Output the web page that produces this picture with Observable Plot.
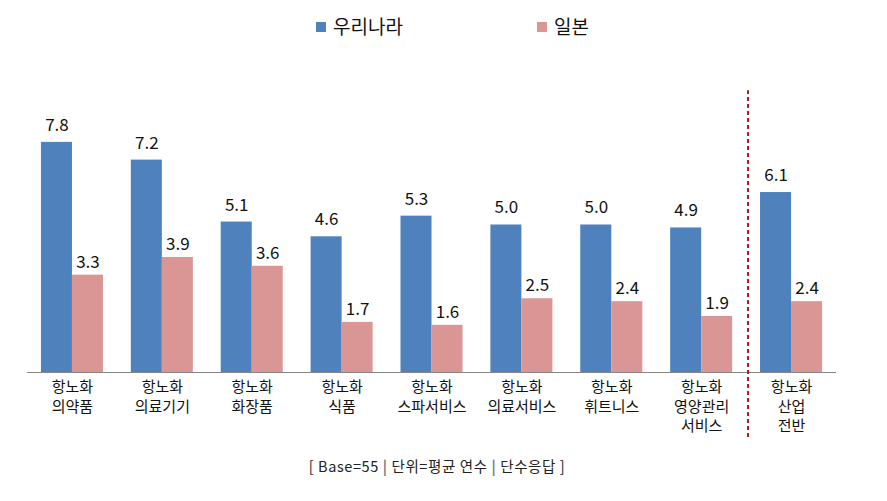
<!DOCTYPE html>
<html><head><meta charset="utf-8">
<script src="https://cdn.jsdelivr.net/npm/d3@7"></script>
<script src="https://cdn.jsdelivr.net/npm/@observablehq/plot@0.6"></script>
<style>
body{margin:0;background:#fff;font-family:"Noto Sans CJK KR","Noto Sans",sans-serif;}
#wrap{position:relative;width:887px;}
#legend{position:relative;height:50px;}
.sw{position:absolute;width:10px;height:10px;}
.lt{position:absolute;font-size:19px;line-height:22px;color:#111;}
#cap{position:relative;height:51px;}
#cap div{position:absolute;left:0;width:874px;text-align:center;top:5px;font-size:14.5px;letter-spacing:0.6px;color:#222;}
#cap b{color:#777;font-weight:bold;}
</style></head>
<body><div id="wrap">
<div id="legend">
<div class="sw" style="left:316px;top:22px;background:#4F81BD"></div><div class="lt" style="left:333px;top:15px">우리나라</div>
<div class="sw" style="left:537px;top:22px;background:#D99694"></div><div class="lt" style="left:554px;top:15px">일본</div>
</div>
<div id="chart"></div>
<div id="cap"><div>[ Base=55 <b>|</b> 단위=평균 연수 <b>|</b> 단수응답 ]</div></div>
</div>
<script>
const categories = ["항노화\n의약품", "항노화\n의료기기", "항노화\n화장품", "항노화\n식품", "항노화\n스파서비스", "항노화\n의료서비스", "항노화\n휘트니스", "항노화\n영양관리\n서비스", "항노화\n산업\n전반"];
const seriesNames = ["우리나라", "일본"];
const korea = [7.8, 7.2, 5.1, 4.6, 5.3, 5.0, 5.0, 4.9, 6.1];
const japan = [3.3, 3.9, 3.6, 1.7, 1.6, 2.5, 2.4, 1.9, 2.4];
const colors = ["#4F81BD", "#D99694"];
const dividerBefore = categories[8];
const dividerSpan = [-2.2, 9.55];

const rows = [];
categories.forEach((c, i) => {
  rows.push({cat: c, s: seriesNames[0], v: korea[i]});
  rows.push({cat: c, s: seriesNames[1], v: japan[i]});
});
const kr = rows.filter(d => d.s === seriesNames[0]);
const jp = rows.filter(d => d.s === seriesNames[1]);
const fmt = d3.format(".1f");
const half = 31;

const chart = Plot.plot({
  width: 887,
  height: 400,
  marginLeft: 27,
  marginRight: 51,
  marginTop: 0,
  marginBottom: 78,
  x: {domain: categories, paddingInner: 0.31, paddingOuter: 0.155, round: false, axis: null},
  y: {domain: [0, 10], range: [322, 27], axis: null},
  style: {fontFamily: '"Noto Sans CJK KR","Noto Sans",sans-serif'},
  marks: [
    Plot.barY(kr, {x: "cat", y: "v", fill: colors[0], insetRight: half}),
    Plot.barY(jp, {x: "cat", y: "v", fill: colors[1], insetLeft: half}),
    Plot.ruleY([0], {stroke: "#868686", strokeWidth: 1}),
    Plot.text(kr, {x: "cat", y: "v", text: d => fmt(d.v), dx: -half/2, dy: -17, fontSize: 17, fill: "#111"}),
    Plot.text(jp, {x: "cat", y: "v", text: d => fmt(d.v), dx: half/2, dy: -13, fontSize: 17, fill: "#111"}),
    Plot.ruleX([dividerBefore], {x: d => d, y1: dividerSpan[0], y2: dividerSpan[1], dx: -43.5, stroke: "#A51C24", strokeWidth: 2, strokeDasharray: "4,3"}),
    Plot.text(categories, {x: d => d, y: 0, text: d => d, dy: 6, lineAnchor: "top", lineHeight: 1.3, fontSize: 15, fill: "#111"})
  ]
});
document.getElementById("chart").appendChild(chart);
</script>
</body></html>
